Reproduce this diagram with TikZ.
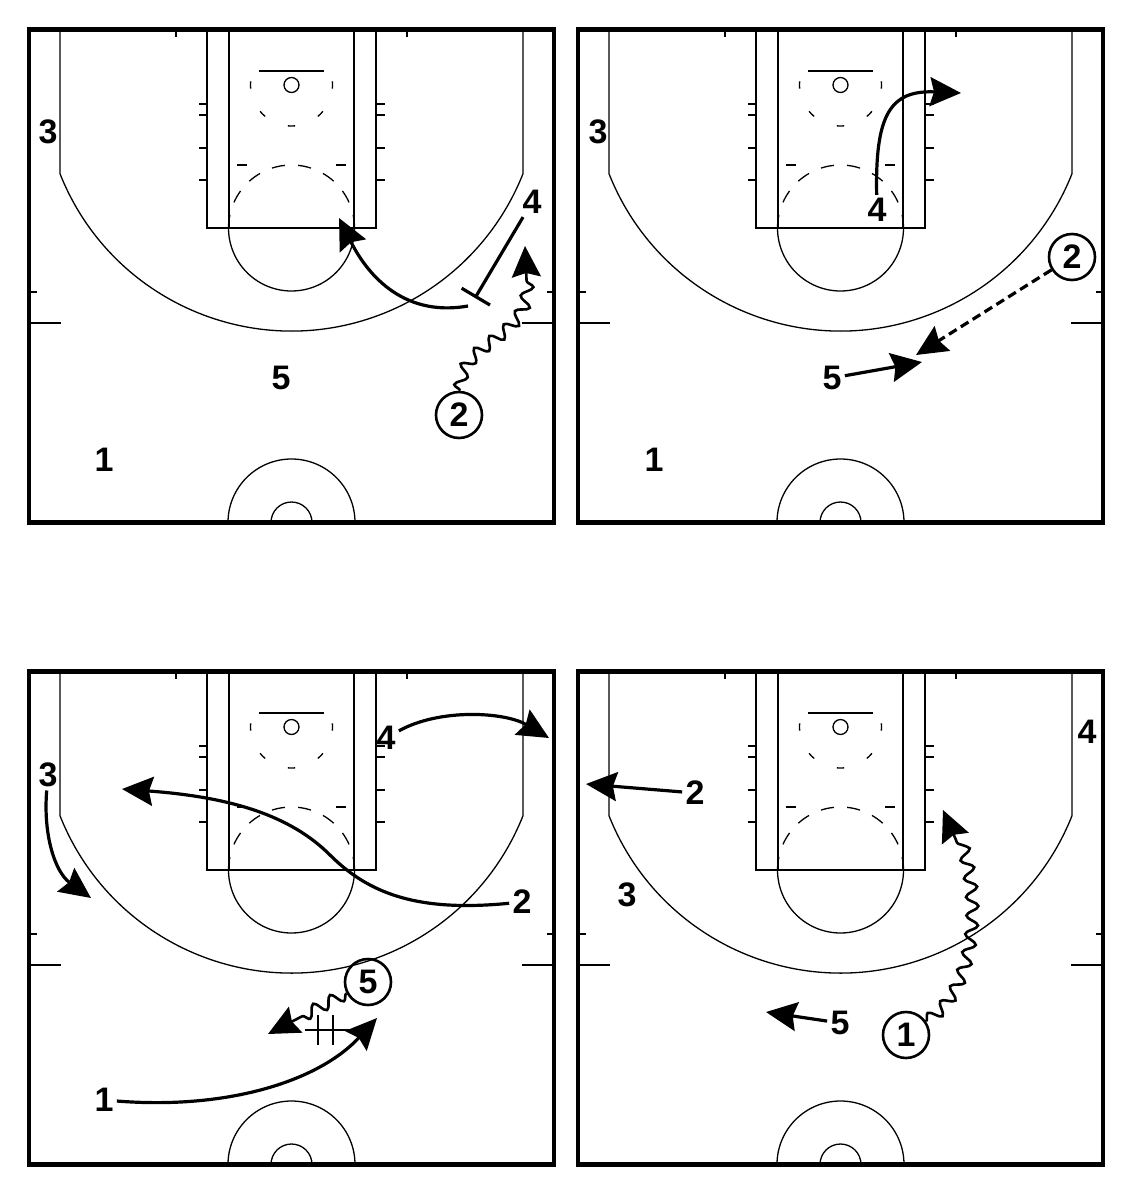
\documentclass[tikz,border=0pt]{standalone}
\usepackage{fontspec}
\setmainfont{Liberation Sans}
\usetikzlibrary{arrows.meta,decorations.pathmorphing}
\tikzset{>={Stealth[length=15.5pt,width=14.5pt,inset=2pt]}}
\tikzstyle{courtline}=[line width=0.65pt]
\tikzstyle{frameline}=[line width=2.4pt]
\tikzstyle{move}=[line width=1.6pt,->]
\tikzstyle{pass}=[move,dash pattern=on 4.5pt off 2.5pt]
\tikzstyle{dribble}=[line width=1.3pt,->,decorate,
  decoration={snake,amplitude=3pt,segment length=9.5pt,post length=16pt}]
\tikzstyle{screen}=[line width=1.6pt,-{Bar[width=16.5pt]}]
\tikzstyle{player}=[font=\fontsize{17}{20}\selectfont\bfseries,inner sep=1.5pt]
\tikzstyle{ballman}=[player,draw,circle,line width=1.3pt,minimum size=23pt,inner sep=0pt]
% half court, drawn in pixel units with the top left panel as origin
\def\court#1#2{%
  \begin{scope}[courtline,shift={(#1,#2)}]
    \draw (207,29.5) |- (376,228) -- (376,29.5); % lane
    \draw (229,29.5) -- (229,228) (354,29.5) -- (354,228);
    \foreach \y in {104,115,148,180}
      \draw (199,\y) -- (207,\y) (376,\y) -- (385,\y);
    \draw (259,71) -- (324,71); % backboard
    \draw (291.5,85) circle[radius=7.5];
    \foreach \a in {0,45,...,180}
      \draw (291.5,85) ++(\a-5:41) arc[start angle=\a-5,end angle=\a+5,radius=41];
    \draw (291.5,228) ++(-12:63) arc[start angle=-12,end angle=192,radius=63];
    \foreach \a in {30,54,...,150}
      \draw (291.5,228) ++(-\a-6:63) arc[start angle=-\a-6,end angle=-\a+6,radius=63];
    \draw (237,165) -- (247,165) (336,165) -- (346,165);
    \draw (60,29.5) -- (60,173.7) arc[start angle=158.4,end angle=21.6,radius=249] -- (523,29.5);
    \draw (29,323) -- (61,323) (522,323) -- (554,323);
    \draw (29,292) -- (37,292) (547,292) -- (554,292);
    \draw (176,29.5) -- (176,37) (407,29.5) -- (407,37);
    \draw (228,522.5) arc[start angle=180,end angle=360,radius=63.5];
    \draw (271,522.5) arc[start angle=180,end angle=360,radius=20.5];
    \draw[frameline] (29,29.5) rectangle (554,522.5);
  \end{scope}}

\begin{document}
\begin{tikzpicture}[x=0.5pt,y=-0.5pt]
  \useasboundingbox (0,0) rectangle (1139,1200);
  \foreach \dx/\dy in {0/0,549/0,0/642,549/642}
    \court{\dx}{\dy};

  % top left
  \node[player] (a3) at (48,132) {3};
  \node[player] (a4) at (532,202) {4};
  \node[player] (a5) at (281,378) {5};
  \node[player] (a1) at (104,460) {1};
  \node[ballman] (a2) at (459,415) {2};
  \coordinate (a4s) at (475,298);
  \coordinate (acut) at (468,306);
  \coordinate (acute) at (339,218);
  \coordinate (a2e) at (525,246);
  \draw[screen] (a4) -- (a4s);
  \draw[move] (acut) .. controls (400,318) and (365,270) .. (acute);
  \draw[dribble] (a2) .. controls (462,345) and (528,345) .. (527,290) -- (a2e);

  % top right
  \node[player] (b3) at (598,132) {3};
  \node[player] (b1) at (654,460) {1};
  \node[player] (b4) at (877,210) {4};
  \node[player] (b5) at (832,378) {5};
  \node[ballman] (b2) at (1072,257) {2};
  \coordinate (b4e) at (961,93);
  \coordinate (b2e) at (916,355);
  \coordinate (b5e) at (922,362);
  \draw[move] (b4) .. controls (875,115) and (890,90) .. (b4e);
  \draw[pass] (b2) -- (b2e);
  \draw[move] (b5) -- (b5e);

  % bottom left
  \node[player] (c3) at (48,775) {3};
  \node[player] (c4) at (386,738) {4};
  \node[player] (c2) at (522,902) {2};
  \node[player] (c1) at (104,1100) {1};
  \node[ballman] (c5) at (368,982) {5};
  \coordinate (c3e) at (91,898);
  \coordinate (c4e) at (549,738);
  \coordinate (c2e) at (122,789);
  \coordinate (c5e) at (268,1034);
  \coordinate (c1e) at (377,1018);
  \draw[move] (c3) .. controls (43,835) and (55,872) .. (c3e);
  \draw[move] (c4) .. controls (440,708) and (505,712) .. (c4e);
  \draw[move] (c2) .. controls (420,912) and (370,895) .. (330,855)
    .. controls (290,815) and (230,797) .. (c2e);
  \draw[dribble] (c5) -- (c5e);
  \draw[move] (c1) .. controls (230,1110) and (320,1080) .. (c1e);
  \draw[courtline] (305,1030) -- (350,1030) (318,1015) -- (318,1045) (333,1015) -- (333,1045); % hand-off

  % bottom right
  \node[player] (d4) at (1087,732) {4};
  \node[player] (d2) at (695,793) {2};
  \node[player] (d3) at (627,895) {3};
  \node[player] (d5) at (840,1023) {5};
  \node[ballman] (d1) at (906,1035) {1};
  \coordinate (d2e) at (586,784);
  \coordinate (d5e) at (766,1012);
  \coordinate (d1e) at (943,810);
  \draw[move] (d2) -- (d2e);
  \draw[move] (d5) -- (d5e);
  \draw[dribble] (d1) .. controls (972,990) and (985,890) .. (d1e);
\end{tikzpicture}
\end{document}
